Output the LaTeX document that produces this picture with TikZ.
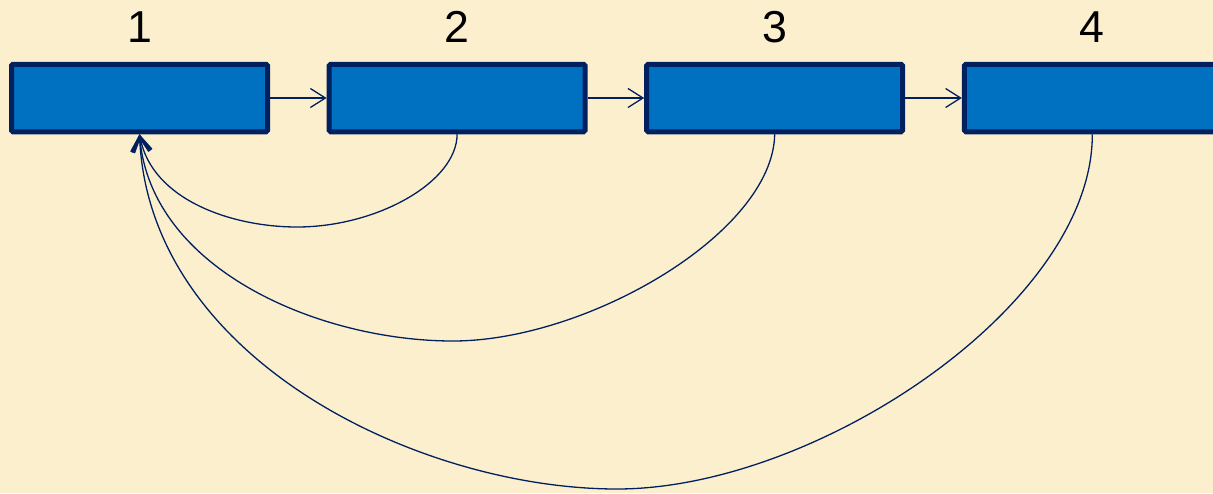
\documentclass[tikz,border=0pt]{standalone}
\usepackage{fontspec}
\setmainfont{Liberation Sans}
\usetikzlibrary{arrows.meta}
\definecolor{paper}{HTML}{FCEFCE}
\definecolor{boxblue}{HTML}{0070C0}
\definecolor{navy}{HTML}{002060}
\tikzset{
  stage/.style={draw=navy, fill=boxblue, line width=5pt, rounded corners=1.5pt,
    minimum width=256pt, minimum height=67.5pt, inner sep=0pt},
  stagelabel/.style={anchor=base, inner sep=0pt, text=black,
    font=\fontsize{44.7}{48}\selectfont},
  link/.style={draw=navy, line width=1.3pt,
    -{Straight Barb[length=15pt, width=19pt, line width=1.3pt]}},
  back/.style={draw=navy, line width=1.3pt,
    -{Straight Barb[length=15pt, width=18pt, line width=2.4pt]}}
}
\begin{document}
\begin{tikzpicture}[x=1pt, y=-1pt]
  \useasboundingbox (0,0) rectangle (1213,493);
  \clip (0,0) rectangle (1213,493);
  \fill[paper] (0,0) rectangle (1213,493);

  % the four stages
  \node[stage] (b1) at (139.5,98) {};
  \node[stage] (b2) at (457.1,98) {};
  \node[stage] (b3) at (774.7,98) {};
  \node[stage] (b4) at (1092.3,98) {};

  % stage numbers
  \node[stagelabel] (l1) at (139.5,42) {1};
  \node[stagelabel] (l2) at (457.1,42) {2};
  \node[stagelabel] (l3) at (774.7,42) {3};
  \node[stagelabel] (l4) at (1092.3,42) {4};

  % forward links
  \draw[link] (b1.east) -- (b2.west);
  \draw[link] (b2.east) -- (b3.west);
  \draw[link] (b3.east) -- (b4.west);

  % lowest points of the return arcs
  \coordinate (m2) at (297,227);
  \coordinate (m3) at (453,341);
  \coordinate (m4) at (617,489);

  % return links to the first stage
  \draw[back] (b2.south) .. controls (457,182) and (377,227) .. (m2)
              .. controls (232,227) and (152,200) .. (b1.south);
  \draw[back] (b3.south) .. controls (773,233) and (587,341) .. (m3)
              .. controls (320,341) and (151,270) .. (b1.south);
  \draw[back] (b4.south) .. controls (1093,304) and (817,489) .. (m4)
              .. controls (420,489) and (149,360) .. (b1.south);
\end{tikzpicture}
\end{document}
